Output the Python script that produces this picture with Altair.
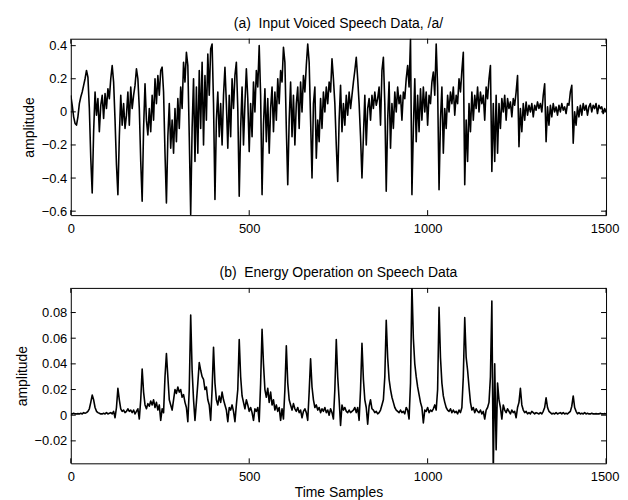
import altair as alt
import pandas as pd

STEP = 4  # sampling grid of the listed values (samples)

speech_amp = [
    0.10, 0.04, -0.03, -0.07, -0.08, -0.03, 0.05, 0.09, 0.12, 0.16, 0.20, 0.25, 0.21, 0.02, -0.28,
    -0.49, -0.12, 0.12, -0.02, 0.08, -0.12, 0.04, 0.10, -0.04, 0.11, 0.02, 0.14, 0.08, 0.20, 0.28, 0.18, -0.05, -0.32,
    -0.50, -0.15, 0.10, -0.08, 0.05, -0.10, -0.02, 0.12, -0.08, 0.15, 0.02, 0.10, 0.16, 0.26, 0.20, 0.02, -0.30,
    -0.54, -0.10, 0.17, -0.05, -0.14, 0.02, -0.12, 0.10, -0.05, 0.20, 0.05, 0.22, 0.10, 0.25, 0.27, 0.12, -0.25,
    -0.55, -0.15, 0.05, -0.22, -0.05, -0.25, 0.02, -0.18, 0.08, -0.10, 0.15, 0.02, 0.30, 0.18, 0.36, 0.28, -0.15,
    -0.62, -0.10, 0.20, -0.30, 0.15, -0.25, 0.25, -0.10, 0.30, -0.20, 0.22, -0.05, 0.35, 0.10, 0.38, 0.41, 0.05,
    -0.53, -0.05, 0.12, -0.15, 0.05, -0.20, 0.10, 0.27, 0.05, -0.22, 0.10, -0.15, 0.20, 0.02, 0.22, 0.30, 0.02,
    -0.51, -0.10, 0.15, -0.20, 0.05, 0.26, 0.08, -0.24, 0.05, -0.15, 0.18, 0.00, 0.25, 0.15, 0.40, 0.10,
    -0.50, -0.08, 0.14, -0.18, 0.08, -0.25, 0.02, 0.15, -0.12, 0.12, -0.05, 0.20, 0.05, 0.25, 0.18, 0.39, 0.30, -0.10,
    -0.44, -0.05, 0.18, -0.15, 0.10, -0.20, 0.05, 0.15, -0.10, 0.18, 0.00, 0.22, 0.12, 0.28, 0.41, 0.30, -0.05,
    -0.40, 0.05, 0.15, -0.28, -0.05, -0.18, 0.08, -0.10, 0.12, 0.00, 0.15, 0.05, 0.18, 0.12, 0.32, 0.20, 0.05, -0.20,
    -0.42, -0.05, 0.16, -0.12, 0.05, -0.08, 0.10, -0.02, 0.12, 0.02, 0.10, 0.18, 0.25, 0.33, 0.20, 0.05, -0.15,
    -0.40, -0.15, 0.10, -0.20, 0.02, 0.08, -0.05, 0.10, 0.02, 0.12, 0.04, 0.08, 0.15, -0.08, 0.25, 0.33, 0.05,
    -0.48, -0.05, 0.18, -0.22, 0.05, -0.10, 0.12, 0.00, 0.15, 0.05, 0.10, -0.05, 0.12, 0.08, 0.20, 0.28, 0.15, 0.44,
    -0.50, -0.10, 0.20, -0.18, 0.10, -0.12, 0.14, -0.05, 0.15, 0.00, 0.12, -0.08, 0.10, 0.05, 0.18, 0.24, 0.10, 0.41, 0.15,
    -0.47, -0.05, 0.15, -0.25, 0.02, -0.10, 0.10, 0.00, 0.12, 0.05, 0.15, -0.02, 0.10, 0.05, 0.20, 0.12, 0.25, 0.36,
    -0.44, -0.05, -0.30, 0.05, -0.12, 0.12, -0.05, 0.10, 0.02, 0.15, 0.00, 0.12, 0.05, 0.10, -0.05, 0.15, 0.08, 0.20, 0.28,
    -0.36, 0.05, -0.30, 0.10, -0.25, 0.05, -0.10, 0.08, 0.00, 0.10, -0.05, 0.08, 0.02, 0.06, -0.03, 0.08, 0.04, 0.12, 0.22,
    -0.21, 0.02, -0.12, 0.05, -0.05, 0.06, -0.02, 0.04, 0.00, 0.05, -0.03, 0.04, 0.01, 0.06, 0.02, 0.05, 0.00, 0.10, 0.17,
    -0.18, 0.03, -0.08, 0.04, -0.03, 0.05, 0.00, 0.03, -0.02, 0.04, 0.00, 0.05, 0.01, 0.03, -0.01, 0.05, 0.04, 0.12, 0.16,
    -0.19, 0.00, -0.08, 0.03, -0.03, 0.04, -0.02, 0.05, 0.01, 0.04, -0.02, 0.03, 0.05, 0.00, 0.04, 0.02, 0.05, -0.01,
    0.04, 0.02, 0.03, -0.01, 0.02, 0.00,
]

energy_amp = [
    0.001, 0.001, 0.0015, 0.001, 0.001, 0.0012, 0.001, 0.0015, 0.001, 0.002, 0.0015, 0.002, 0.003, 0.005, 0.010,
    0.0157, 0.012, 0.006, 0.003, 0.002, 0.0015, 0.001, 0.001, 0.0015, 0.001, 0.002, 0.001, 0.0015, 0.002, 0.001, 0.003, -0.002, 0.006,
    0.021, 0.012, 0.005, 0.003, 0.004, 0.002, 0.003, 0.005, 0.003, 0.004, 0.002, 0.004, 0.001, 0.003, 0.005, -0.003, 0.012,
    0.036, 0.018, 0.008, 0.005, 0.009, 0.007, 0.011, 0.008, 0.012, 0.006, 0.010, 0.004, 0.008, -0.004, 0.005, 0.002, 0.030,
    0.048, 0.030, 0.012, 0.008, 0.004, 0.012, 0.020, 0.017, 0.022, 0.018, 0.020, 0.014, 0.016, 0.010, 0.006, -0.005, 0.020,
    0.078, 0.035, 0.012, -0.004, 0.010, 0.025, 0.041, 0.035, 0.030, 0.028, 0.020, 0.022, 0.012, 0.008, -0.004, 0.020,
    0.053, 0.025, 0.012, 0.008, 0.015, 0.010, 0.018, 0.012, 0.008, 0.004, -0.005, 0.006, 0.004, 0.008, 0.003, -0.005, 0.008, 0.020,
    0.059, 0.030, 0.015, 0.010, 0.005, 0.012, 0.008, 0.003, 0.006, 0.002, -0.004, 0.005, 0.003, 0.006, -0.005, 0.025,
    0.067, 0.040, 0.020, 0.014, 0.021, 0.010, 0.018, 0.008, 0.012, 0.004, 0.008, 0.003, 0.006, -0.004, 0.005, -0.003, 0.020,
    0.054, 0.025, 0.012, 0.008, 0.004, 0.009, 0.005, 0.003, 0.006, 0.002, 0.004, -0.002, 0.003, 0.005, 0.002, -0.004, 0.018,
    0.044, 0.022, 0.012, 0.006, 0.008, 0.004, 0.006, 0.002, 0.005, 0.003, 0.006, 0.002, 0.004, 0.000, 0.005, 0.002, -0.003, 0.020,
    0.059, 0.030, 0.012, -0.008, 0.008, 0.004, 0.006, 0.003, 0.002, 0.004, 0.002, 0.003, 0.004, 0.006, 0.002, 0.006, -0.004, 0.020,
    0.056, 0.028, 0.012, 0.006, -0.007, 0.007, 0.012, 0.005, 0.004, 0.002, 0.003, 0.001, 0.002, 0.004, 0.008, 0.012, 0.030,
    0.074, 0.045, 0.028, 0.020, 0.014, 0.010, 0.006, 0.004, 0.003, 0.002, 0.004, 0.002, 0.003, 0.001, 0.006, 0.004, -0.003, 0.025,
    0.102, 0.060, 0.040, 0.030, 0.022, 0.016, 0.010, 0.006, -0.006, 0.004, 0.003, 0.006, 0.002, 0.004, 0.003, 0.005, 0.008, 0.004, 0.020,
    0.084, 0.045, 0.025, 0.015, 0.010, 0.006, 0.004, 0.003, 0.005, 0.002, 0.004, 0.002, 0.003, 0.001, 0.004, 0.002, 0.006, 0.030,
    0.076, 0.045, 0.035, 0.022, 0.010, 0.004, 0.006, 0.002, 0.005, 0.003, 0.002, 0.004, 0.001, 0.003, -0.003, 0.004, 0.006, 0.010, 0.030,
    0.089, -0.045, 0.040, -0.027, 0.025, 0.012, 0.006, -0.003, 0.008, 0.004, 0.002, 0.005, 0.003, 0.001, 0.004, 0.002, 0.003, -0.002, 0.006, 0.010,
    0.021, 0.008, 0.004, 0.002, 0.003, 0.001, 0.002, 0.001, 0.003, 0.002, 0.001, 0.002, 0.0015, 0.001, 0.002, 0.001, 0.003, 0.006,
    0.0136, 0.006, 0.003, 0.002, 0.001, 0.0015, 0.001, 0.002, 0.001, 0.0015, 0.002, 0.001, 0.002, 0.001, 0.0015, 0.001, 0.002, 0.003, 0.007,
    0.015, 0.006, 0.003, 0.001, 0.002, 0.001, 0.0015, 0.001, 0.002, 0.001, 0.0015, 0.001, 0.001, 0.0015, 0.001, 0.001, 0.0012, 0.001,
    0.001, 0.0015, 0.001, 0.001, 0.0012, 0.001,
]

x_ticks = [0, 500, 1000, 1500]
speech_yticks = [-0.6, -0.4, -0.2, 0, 0.2, 0.4]
energy_yticks = [-0.02, 0, 0.02, 0.04, 0.06, 0.08]
speech_domain = [-0.624, 0.442]
energy_domain = [-0.0375, 0.0992]

title_a = "(a)\u00a0 Input Voiced Speech Data, /a/"
title_b = "(b)\u00a0 Energy Operation on Speech Data"

W = 537
FONT = "Liberation Sans"


def panel(values, ydom, yticks, title, decimals, h, xtitle):
    df = pd.DataFrame({"sample": [STEP * i for i in range(len(values))], "amp": values})
    xs = alt.Scale(domain=[0, 1500], nice=False, zero=False)
    ys = alt.Scale(domain=ydom, nice=False, zero=False)
    xaxis = alt.Axis(
        values=x_ticks, format="d", labelPadding=7, labelOverlap=False,
        labelFlush=False, tickCount=4,
        labelAlign={"condition": {"test": "datum.value == 1500", "value": "right"}, "value": "center"},
        labelOffset={"condition": {"test": "datum.value == 1500", "value": 13}, "value": 0},
    )
    yaxis = alt.Axis(
        values=yticks,
        labelPadding=4,
        labelOverlap=False,
        labelFlush=False,
        tickCount=6,
        labelExpr=f"datum.value == 0 ? '0' : format(datum.value, '.{decimals}f')",
    )
    line = alt.Chart(df).mark_line(
        color="black", strokeWidth=1.6, clip=True, strokeJoin="round"
    ).encode(
        x=alt.X("sample:Q", scale=xs, axis=xaxis, title=xtitle),
        y=alt.Y("amp:Q", scale=ys, axis=yaxis, title="amplitude"),
    )
    ytdf = pd.DataFrame({"t": yticks})
    xtdf = pd.DataFrame({"t": x_ticks})
    tick = dict(color="black", strokeWidth=1)
    lt = alt.Chart(ytdf).mark_rule(**tick).encode(
        y=alt.Y("t:Q", scale=ys, axis=yaxis, title="amplitude"), x=alt.value(0), x2=alt.value(5))
    rt = alt.Chart(ytdf).mark_rule(**tick).encode(
        y=alt.Y("t:Q", scale=ys, axis=yaxis, title="amplitude"), x=alt.value(W - 5), x2=alt.value(W))
    bt = alt.Chart(xtdf).mark_rule(**tick).encode(
        x=alt.X("t:Q", scale=xs, axis=xaxis, title=xtitle), y=alt.value(h - 5), y2=alt.value(h))
    tt = alt.Chart(xtdf).mark_rule(**tick).encode(
        x=alt.X("t:Q", scale=xs, axis=xaxis, title=xtitle), y=alt.value(0), y2=alt.value(5))
    return alt.layer(line, lt, rt, bt, tt).properties(
        width=W,
        height=h,
        title=alt.TitleParams(title, fontSize=14, font=FONT, fontWeight="normal",
                              color="black", anchor="middle", offset=7),
    )


top = panel(speech_amp, speech_domain, speech_yticks, title_a, 1, 177, None)
bottom = panel(energy_amp, energy_domain, energy_yticks, title_b, 2, 176, "Time Samples")

chart = alt.vconcat(top, bottom, spacing=30).properties(
    padding={"left": 6, "top": 8, "right": 0, "bottom": 2},
    background="white",
).configure_view(
    stroke="black", strokeWidth=1
).configure_axis(
    labelFont=FONT, labelFontSize=13, labelColor="black",
    titleFont=FONT, titleFontSize=14, titleFontWeight="normal", titleColor="black",
    ticks=False, tickSize=0, domain=False, grid=False, labelOverlap=False,
).configure_axisY(titlePadding=5).configure_axisX(titlePadding=2)

chart.save("out.html", embed_options={"renderer": "svg", "actions": False})
